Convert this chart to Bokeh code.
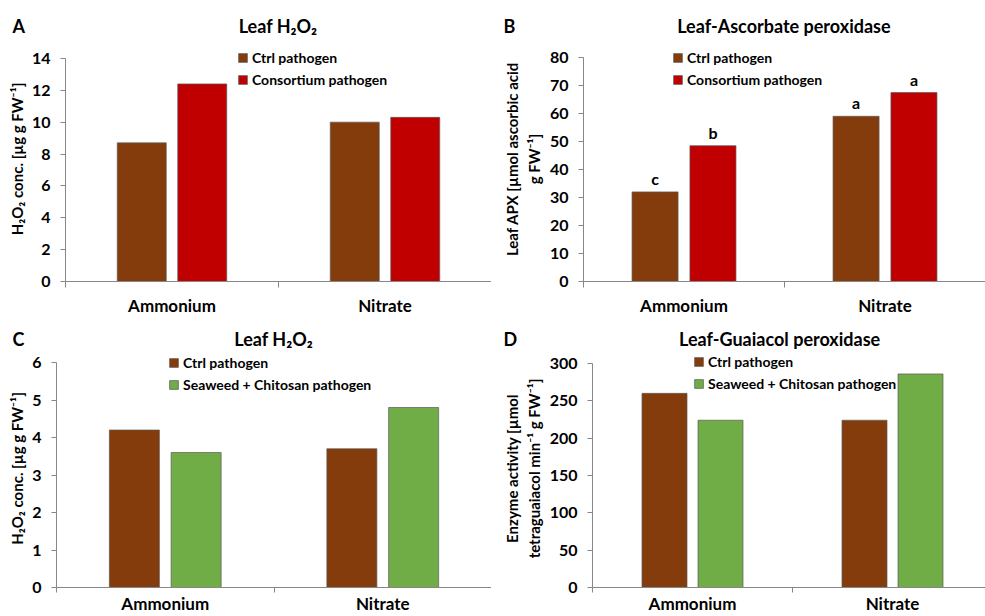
import numpy as np
from bokeh.plotting import figure
from bokeh.models import (ColumnDataSource, Range1d, FixedTicker, Legend,
                          LegendItem, Title)
from bokeh.layouts import row, column
from bokeh.embed import file_html
from bokeh.resources import INLINE
from bokeh.core.properties import value

# ---------------- data ----------------
categories = ["Ammonium", "Nitrate"]

# A: leaf H2O2, control vs. consortium
a_ctrl = [8.7, 10.0]
a_cons = [12.4, 10.3]
a_ticks = [0, 2, 4, 6, 8, 10, 12, 14]

# B: leaf ascorbate peroxidase, control vs. consortium
b_ctrl = [32.0, 59.0]
b_cons = [48.5, 67.5]
b_ctrl_letters = ["c", "a"]
b_cons_letters = ["b", "a"]
b_ticks = [0, 10, 20, 30, 40, 50, 60, 70, 80]

# C: leaf H2O2, control vs. seaweed + chitosan
c_ctrl = [4.2, 3.7]
c_sc = [3.6, 4.8]
c_ticks = [0, 1, 2, 3, 4, 5, 6]

# D: leaf guaiacol peroxidase, control vs. seaweed + chitosan
d_ctrl = [260, 224]
d_sc = [224, 286]
d_ticks = [0, 50, 100, 150, 200, 250, 300]

BROWN = "#843C0C"
RED = "#C00000"
GREEN = "#70AD47"
AXIS = "#878787"
FONT = "Lato"


def panel(width, height, left, frame_top, axis_top, frame_bottom, x_end,
          y_ticks, series, title, ylabel, letter, letter_left, gap,
          legend_xy, bar_width=0.23, offset=0.142, letters=None,
          ylabel_standoff=3, xlabel_standoff=7, x_tick_out=6):
    # the frame reaches a little above the top tick so the legend has room;
    # the y axis line itself stops at the top tick
    y_top = y_ticks[-1]
    y_end = y_top * (frame_bottom - frame_top) / (frame_bottom - axis_top)
    p = figure(width=width, height=height, output_backend="svg",
               toolbar_location=None, tools="",
               x_range=Range1d(0, x_end), y_range=Range1d(0, y_end),
               min_border_left=left, min_border_right=0,
               min_border_top=frame_top,
               min_border_bottom=height - frame_bottom)
    p.outline_line_color = None
    p.xgrid.visible = False
    p.ygrid.visible = False
    p.background_fill_color = "white"
    p.border_fill_color = "white"

    centers = np.arange(len(categories)) + 0.5
    shifts = np.linspace(-offset, offset, len(series))
    items = []
    for (name, vals, color), dx in zip(series, shifts):
        src = ColumnDataSource(dict(x=centers + dx, top=vals))
        r = p.vbar(x="x", top="top", width=bar_width, source=src,
                   fill_color=color, line_color="#5a5a5a", line_width=0.7)
        items.append(LegendItem(label=name, renderers=[r]))

    if letters is not None:
        for (name, vals, color), dx, labs in zip(series, shifts, letters):
            src = ColumnDataSource(dict(x=centers + dx, y=vals, t=labs))
            p.text(x="x", y="y", text="t", source=src, y_offset=-4,
                   text_align="center", text_baseline="bottom",
                   text_font=value(FONT), text_font_style="bold",
                   text_font_size="16px", text_color="black")

    # x axis: labels at category centres, tick marks between categories
    xa = p.xaxis[0]
    xa.ticker = FixedTicker(ticks=list(centers),
                            minor_ticks=list(range(len(categories) + 1)))
    xa.major_label_overrides = {float(c): cat for c, cat in zip(centers, categories)}
    xa.major_tick_line_color = None
    xa.major_tick_in = 0
    xa.major_tick_out = 0
    xa.minor_tick_in = 0
    xa.minor_tick_out = x_tick_out
    xa.minor_tick_line_color = AXIS
    xa.axis_line_color = AXIS
    xa.major_label_standoff = xlabel_standoff
    xa.major_label_text_font = FONT
    xa.major_label_text_font_style = "bold"
    xa.major_label_text_font_size = "17px"
    xa.major_label_text_color = "black"

    ya = p.yaxis[0]
    ya.ticker = FixedTicker(ticks=y_ticks)
    ya.bounds = (0, y_top)
    ya.minor_tick_line_color = None
    ya.major_tick_in = 0
    ya.major_tick_out = 5
    ya.major_tick_line_color = AXIS
    ya.axis_line_color = AXIS
    ya.major_label_standoff = 10
    ya.major_label_text_font = FONT
    ya.major_label_text_font_style = "bold"
    ya.major_label_text_font_size = "16px"
    ya.major_label_text_color = "black"
    ya.axis_label = ylabel
    ya.axis_label_standoff = ylabel_standoff
    ya.axis_label_text_font = FONT
    ya.axis_label_text_font_style = "bold"
    ya.axis_label_text_font_size = "15px"
    ya.axis_label_text_color = "black"

    legend = Legend(items=items, location=legend_xy, padding=0, margin=0,
                    spacing=5, glyph_width=11, glyph_height=11,
                    label_height=11, label_standoff=4,
                    label_text_font=FONT, label_text_font_style="bold",
                    label_text_font_size="14px", label_text_color="black",
                    border_line_color=None, background_fill_alpha=0)
    p.add_layout(legend)

    # panel letter and chart title share one heading line above the frame
    p.title.visible = False
    p.add_layout(Title(text=letter + "\u00a0" * gap + title, align="left",
                       offset=letter_left - left, vertical_align="bottom",
                       standoff=0, text_font=FONT, text_font_style="bold",
                       text_font_size="18px", text_color="black"), "above")
    return p


pA = panel(491, 320, 65, 36, 58, 282, 2.0, a_ticks,
           [("Ctrl pathogen", a_ctrl, BROWN), ("Consortium pathogen", a_cons, RED)],
           "Leaf H₂O₂", "H₂O₂ conc. [µg g FW⁻¹]", "A", 12, 49, (172, 193))
pB = panel(494, 320, 92, 36, 57, 281, 2.0, b_ticks,
           [("Ctrl pathogen", b_ctrl, BROWN), ("Consortium pathogen", b_cons, RED)],
           "Leaf-Ascorbate peroxidase", "Leaf APX [µmol ascorbic acid\ng FW⁻¹]",
           "B", 12, 37, (89, 193), bar_width=0.229, offset=0.144,
           letters=[b_ctrl_letters, b_cons_letters], ylabel_standoff=4)
pC = panel(491, 296, 56, 29, 42, 267, 2.0, c_ticks,
           [("Ctrl pathogen", c_ctrl, BROWN), ("Seaweed + Chitosan pathogen", c_sc, GREEN)],
           "Leaf H₂O₂", "H₂O₂ conc. [µg g FW⁻¹]", "C", 12, 48, (112, 194),
           xlabel_standoff=0, x_tick_out=5)
pD = panel(494, 296, 101, 29, 43, 267, 1.965, d_ticks,
           [("Ctrl pathogen", d_ctrl, BROWN), ("Seaweed + Chitosan pathogen", d_sc, GREEN)],
           "Leaf-Guaiacol peroxidase",
           "Enzyme activity [µmol\ntetraguaiacol min⁻¹ g FW⁻¹]", "D", 12, 37,
           (101, 195), bar_width=0.225, offset=0.14, ylabel_standoff=4,
           xlabel_standoff=0, x_tick_out=5)

layout = column(row(pA, pB), row(pC, pD))
open("out.html", "w").write(file_html(layout, INLINE))
